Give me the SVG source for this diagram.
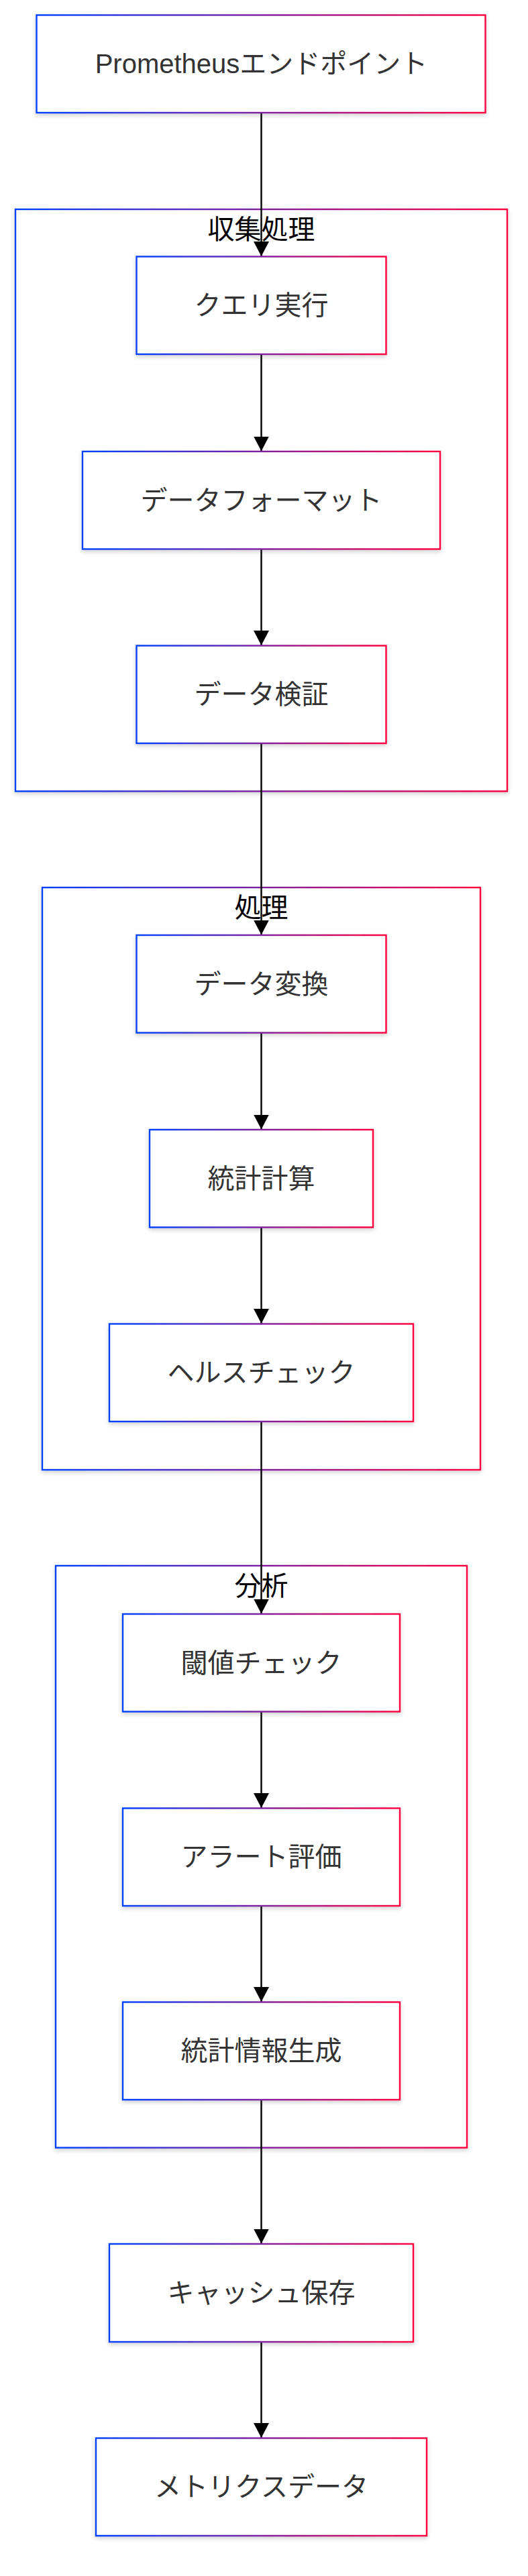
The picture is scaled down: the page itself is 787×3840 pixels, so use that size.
<svg xmlns="http://www.w3.org/2000/svg" width="787" height="3840" viewBox="0 0 787 3840">
<style>
.node rect{fill:#fff;stroke:url(#g);stroke-width:2.4;filter:url(#sh)}
.cluster rect{fill:#fff;stroke:url(#g);stroke-width:2.4;filter:url(#sh)}
.node text{font-family:"Liberation Sans","Noto Sans CJK JP",sans-serif;font-size:40px;fill:#333;text-anchor:middle;dominant-baseline:central}
.cluster text{font-family:"Liberation Sans","Noto Sans CJK JP",sans-serif;font-size:40px;fill:#000;text-anchor:middle;dominant-baseline:central}
.edges line{stroke:#000;stroke-width:2.4;marker-end:url(#arr)}
</style>
<defs>
<linearGradient id="g" x1="0" y1="0" x2="1" y2="0">
<stop offset="0" stop-color="#0040ff"/>
<stop offset="1" stop-color="#ff0040"/>
</linearGradient>
<filter id="sh" x="-10%" y="-10%" width="120%" height="130%">
<feDropShadow dx="0" dy="3" stdDeviation="3" flood-color="#000" flood-opacity="0.18"/>
</filter>
<marker id="arr" viewBox="0 0 22 23" refX="22" refY="11.5" markerUnits="userSpaceOnUse" markerWidth="22" markerHeight="23" orient="auto">
<path d="M0,0 L22,11.5 L0,23 z" fill="#000"/>
</marker>
</defs>
<rect width="787" height="3840" fill="#fff"/>
<g id="cluster-collect" class="cluster">
<rect x="23" y="312" width="733" height="867.5"/>
<text x="389.5" y="342">収集処理</text>
</g>
<g id="cluster-process" class="cluster">
<rect x="63" y="1323" width="653" height="868"/>
<text x="389.5" y="1353">処理</text>
</g>
<g id="cluster-analysis" class="cluster">
<rect x="83" y="2334" width="613" height="867.5"/>
<text x="389.5" y="2364">分析</text>
</g>
<g id="connectors" class="edges">
<line x1="389.5" y1="168" x2="389.5" y2="382"/>
<line x1="389.5" y1="528" x2="389.5" y2="672.5"/>
<line x1="389.5" y1="818.5" x2="389.5" y2="962"/>
<line x1="389.5" y1="1108" x2="389.5" y2="1393.5"/>
<line x1="389.5" y1="1539.5" x2="389.5" y2="1683.5"/>
<line x1="389.5" y1="1829.5" x2="389.5" y2="1973"/>
<line x1="389.5" y1="2119" x2="389.5" y2="2405.5"/>
<line x1="389.5" y1="2551.5" x2="389.5" y2="2695"/>
<line x1="389.5" y1="2841" x2="389.5" y2="2984"/>
<line x1="389.5" y1="3130" x2="389.5" y2="3344.5"/>
<line x1="389.5" y1="3491" x2="389.5" y2="3634"/>
</g>
<g id="node-prometheus" class="node">
<rect x="54.5" y="22.5" width="669" height="145.5"/>
<text x="389.5" y="95.25">Prometheusエンドポイント</text>
</g>
<g id="node-query" class="node">
<rect x="203.5" y="382.5" width="372" height="145.5"/>
<text x="389.5" y="455.25">クエリ実行</text>
</g>
<g id="node-format" class="node">
<rect x="123" y="673" width="533" height="145.5"/>
<text x="389.5" y="745.75">データフォーマット</text>
</g>
<g id="node-validate" class="node">
<rect x="203.5" y="962.5" width="372" height="145.5"/>
<text x="389.5" y="1035.25">データ検証</text>
</g>
<g id="node-transform" class="node">
<rect x="203.5" y="1394" width="372" height="145.5"/>
<text x="389.5" y="1466.75">データ変換</text>
</g>
<g id="node-stats" class="node">
<rect x="223" y="1684" width="333" height="145.5"/>
<text x="389.5" y="1756.75">統計計算</text>
</g>
<g id="node-health" class="node">
<rect x="163" y="1973.5" width="453" height="145.5"/>
<text x="389.5" y="2046.25">ヘルスチェック</text>
</g>
<g id="node-threshold" class="node">
<rect x="183" y="2406" width="413" height="145.5"/>
<text x="389.5" y="2478.75">閾値チェック</text>
</g>
<g id="node-alert" class="node">
<rect x="183" y="2695.5" width="413" height="145.5"/>
<text x="389.5" y="2768.25">アラート評価</text>
</g>
<g id="node-statinfo" class="node">
<rect x="183" y="2984.5" width="413" height="145.5"/>
<text x="389.5" y="3057.25">統計情報生成</text>
</g>
<g id="node-cache" class="node">
<rect x="163" y="3345" width="453" height="146"/>
<text x="389.5" y="3418">キャッシュ保存</text>
</g>
<g id="node-metrics" class="node">
<rect x="143" y="3634.5" width="493" height="145.5"/>
<text x="389.5" y="3707.25">メトリクスデータ</text>
</g>
</svg>
